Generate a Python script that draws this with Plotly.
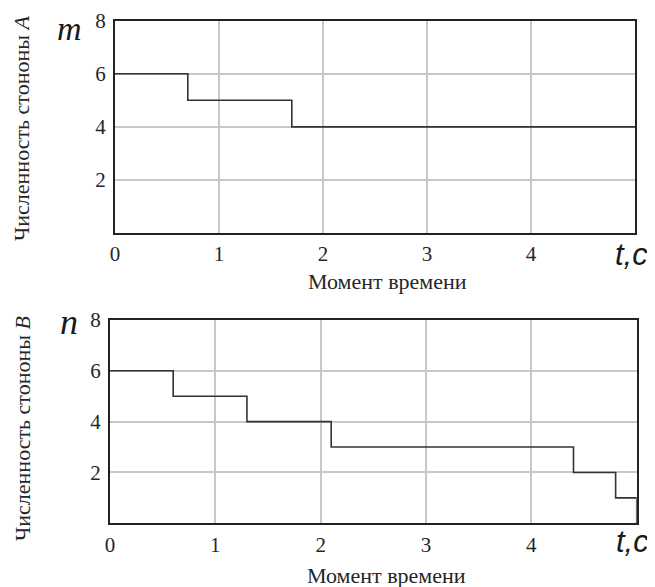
import plotly.graph_objects as go

# Data
t_a = [0, 0.7, 1.7, 5]
m_vals = [6, 5, 4, 4]
t_b = [0, 0.6, 1.3, 2.1, 4.4, 4.8, 5]
n_vals = [6, 5, 4, 3, 2, 1, 0]
x_ticks = [0, 1, 2, 3, 4]
y_ticks = [2, 4, 6, 8]

W, H = 655, 587
OFF = 8  # page body margin offset compensation
SERIF = "Liberation Serif, Times New Roman, serif"
SANS = "Liberation Sans, Arial, sans-serif"
TXT = "#262626"

def px(x):
    return (x - OFF) / W

def py(y):
    return 1 - (y - OFF) / H

fig = go.Figure()
fig.add_trace(go.Scatter(x=t_a, y=m_vals, mode="lines", line=dict(shape="hv", color="#333333", width=1.6),
                         xaxis="x", yaxis="y", cliponaxis=False, showlegend=False, hoverinfo="skip"))
fig.add_trace(go.Scatter(x=t_b, y=n_vals, mode="lines", line=dict(shape="hv", color="#333333", width=1.6),
                         xaxis="x2", yaxis="y2", cliponaxis=False, showlegend=False, hoverinfo="skip"))

def xax(domain, anchor):
    return dict(domain=domain, anchor=anchor, range=[0, 5], tickvals=x_ticks, automargin=False,
                showgrid=True, gridcolor="#c8c8c8", gridwidth=1.5, zeroline=False,
                showline=True, linecolor="#222222", linewidth=2, mirror=True,
                ticks="", ticklabelstandoff=1,
                tickfont=dict(family=SERIF, size=21, color=TXT))

def yax(domain, anchor):
    return dict(domain=domain, anchor=anchor, range=[0, 8], tickvals=y_ticks, automargin=False,
                showgrid=True, gridcolor="#c8c8c8", gridwidth=1.5, zeroline=False,
                showline=True, linecolor="#222222", linewidth=2, mirror=True,
                ticks="", ticklabelstandoff=3,
                tickfont=dict(family=SERIF, size=21, color=TXT))

fig.update_layout(
    width=W, height=H, margin=dict(l=0, r=0, t=0, b=0, autoexpand=False),
    paper_bgcolor="white", plot_bgcolor="white",
    xaxis=xax([px(115), px(635)], "y"),
    yaxis=yax([py(233), py(20.7)], "x"),
    xaxis2=xax([px(110), px(636.7)], "y2"),
    yaxis2=yax([py(523.3), py(320)], "x2"),
)

def ann(text, x, y, font, angle=0, yanchor="middle"):
    fig.add_annotation(text=text, x=px(x), y=py(y), xref="paper", yref="paper",
                       showarrow=False, xanchor="center", yanchor=yanchor,
                       textangle=angle, font=font)

ylab_font = dict(family=SERIF, size=22, color=TXT)
ann("Численность стононы <i>A</i>", 22, 128, ylab_font, -90)
ann("Численность стононы <i>B</i>", 22, 429, ylab_font, -90)
ann("<i>m</i>", 69, 8, dict(family=SERIF, size=34, color="#1a1a1a"), yanchor="top")
ann("<i>n</i>", 69, 322, dict(family=SERIF, size=36, color="#1a1a1a"))
ann("<i>t,c</i>", 631, 254, dict(family=SANS, size=31, color="#1a1a1a"))
ann("<i>t,c</i>", 632, 541, dict(family=SANS, size=31, color="#1a1a1a"))
xlab_font = dict(family=SERIF, size=22, color=TXT)
ann("Момент времени", 387, 281, xlab_font)
ann("Момент времени", 386, 575, xlab_font)

fig.write_html("out.html")
